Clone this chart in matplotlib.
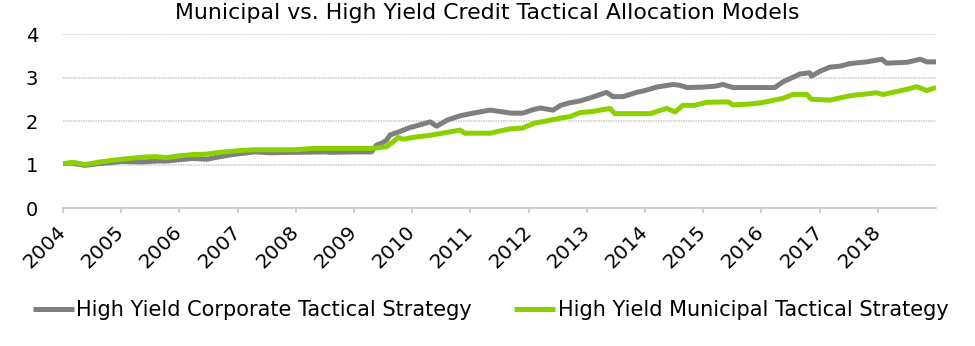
import matplotlib
matplotlib.use("Agg")
import matplotlib.pyplot as plt

# Series (decimal years, growth of $1)
corp_years = [
    2004.00, 2004.15, 2004.38, 2004.60, 2004.81, 2005.00, 2005.37, 2005.60, 2005.78,
    2006.00, 2006.24, 2006.47, 2006.70, 2006.87, 2007.04, 2007.30, 2007.55, 2008.00,
    2008.50, 2008.60, 2009.00, 2009.30, 2009.39, 2009.48, 2009.56, 2009.62, 2009.79,
    2009.96, 2010.10, 2010.31, 2010.42, 2010.60, 2010.82, 2011.00, 2011.34, 2011.50,
    2011.70, 2011.90, 2012.05, 2012.20, 2012.42, 2012.55, 2012.71, 2012.88, 2013.10,
    2013.34, 2013.45, 2013.62, 2013.86, 2014.00, 2014.20, 2014.48, 2014.60, 2014.72,
    2015.00, 2015.20, 2015.34, 2015.51, 2016.00, 2016.23, 2016.37, 2016.50, 2016.66,
    2016.83, 2016.86, 2017.00, 2017.18, 2017.35, 2017.52, 2017.81, 2018.07, 2018.15,
    2018.50, 2018.73, 2018.84, 2019.00,
]
corp_vals = [
    1.02, 1.03, 0.98, 1.02, 1.04, 1.07, 1.06, 1.08, 1.08,
    1.11, 1.14, 1.12, 1.18, 1.22, 1.25, 1.29, 1.27, 1.28,
    1.29, 1.28, 1.29, 1.29, 1.45, 1.49, 1.56, 1.68, 1.76,
    1.85, 1.90, 1.98, 1.88, 2.02, 2.12, 2.17, 2.25, 2.22,
    2.18, 2.18, 2.25, 2.30, 2.25, 2.36, 2.42, 2.46, 2.55,
    2.66, 2.56, 2.56, 2.66, 2.70, 2.78, 2.84, 2.82, 2.77,
    2.78, 2.80, 2.84, 2.77, 2.77, 2.77, 2.90, 2.98, 3.08,
    3.11, 3.03, 3.14, 3.24, 3.26, 3.32, 3.36, 3.42, 3.33,
    3.35, 3.42, 3.36, 3.36,
]

muni_years = [
    2004.00, 2004.17, 2004.38, 2004.60, 2004.81, 2005.00, 2005.37, 2005.60, 2005.78,
    2006.00, 2006.24, 2006.47, 2006.70, 2007.04, 2007.30, 2008.00, 2008.30, 2009.33,
    2009.56, 2009.67, 2009.76, 2009.85, 2010.00, 2010.30, 2010.60, 2010.82, 2010.90,
    2011.34, 2011.68, 2011.90, 2012.10, 2012.30, 2012.60, 2012.71, 2012.88, 2013.10,
    2013.40, 2013.48, 2014.09, 2014.37, 2014.52, 2014.65, 2014.85, 2015.06, 2015.43,
    2015.51, 2015.80, 2016.00, 2016.37, 2016.54, 2016.78, 2016.86, 2017.18, 2017.52,
    2017.98, 2018.09, 2018.50, 2018.67, 2018.84, 2019.00,
]
muni_vals = [
    1.02, 1.05, 1.00, 1.05, 1.09, 1.12, 1.17, 1.18, 1.16,
    1.20, 1.23, 1.24, 1.28, 1.32, 1.34, 1.34, 1.37, 1.37,
    1.41, 1.52, 1.62, 1.58, 1.62, 1.67, 1.74, 1.79, 1.72,
    1.72, 1.82, 1.84, 1.95, 2.00, 2.08, 2.10, 2.19, 2.22,
    2.29, 2.17, 2.17, 2.29, 2.21, 2.36, 2.36, 2.43, 2.44,
    2.37, 2.39, 2.42, 2.52, 2.61, 2.61, 2.50, 2.48, 2.58,
    2.65, 2.61, 2.73, 2.79, 2.70, 2.77,
]

year_ticks = list(range(2004, 2019))
y_ticks = [0, 1, 2, 3, 4]

title = "Municipal vs. High Yield Credit Tactical Allocation Models"
corp_label = "High Yield Corporate Tactical Strategy"
muni_label = "High Yield Municipal Tactical Strategy"

plt.rcParams["font.family"] = ["DejaVu Sans"]

fig = plt.figure(figsize=(9.75, 3.46), dpi=100)
ax = fig.add_axes([0.0646, 0.3988, 0.8954, 0.5029])

ax.plot(corp_years, corp_vals, color="#7f7f7f", linewidth=3.6,
        solid_capstyle="butt", label=corp_label)
ax.plot(muni_years, muni_vals, color="#8cd000", linewidth=3.6,
        solid_capstyle="butt", label=muni_label)

ax.set_xlim(2004, 2019)
ax.set_ylim(0, 4)
ax.set_yticks(y_ticks)
ax.set_xticks(year_ticks)
ax.set_xticklabels([str(y) for y in year_ticks], rotation=45, ha="right",
                   va="center", rotation_mode="anchor", fontsize=14.5)
ax.tick_params(axis="y", length=0, labelsize=14, pad=18)
ax.tick_params(axis="x", length=3.6, color="#c8c8c8", width=1.2, pad=11)

ax.grid(True, axis="y", color="#d0d0d0", linewidth=1.2, linestyle=(0, (1, 0.5)))
ax.set_axisbelow(True)
for side in ("left", "right", "top"):
    ax.spines[side].set_visible(False)
ax.spines["bottom"].set_color("#c8c8c8")
ax.spines["bottom"].set_linewidth(1.2)

fig.text(0.5, 0.963, title, ha="center", va="center", fontsize=15.8)

fig.legend(loc="center", bbox_to_anchor=(0.503, 0.104), ncol=2, frameon=False,
           fontsize=15, handlelength=2.0, handletextpad=0.1, columnspacing=2.0)

fig.savefig("out.png", dpi=100)
